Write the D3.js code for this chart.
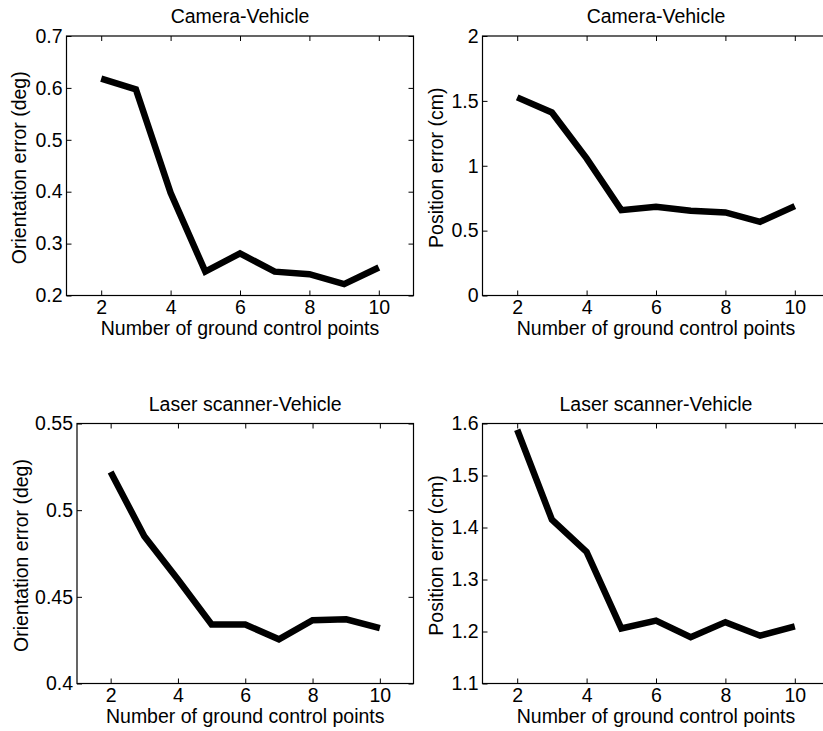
<!DOCTYPE html>
<html>
<head>
<meta charset="utf-8">
<script src="https://cdn.jsdelivr.net/npm/d3@7"></script>
<style>
  body { margin: 0; background: #fff; }
  svg { display: block; font-family: "Liberation Sans", Arial, sans-serif; }
</style>
</head>
<body>
<svg id="chart" width="823" height="731"></svg>
<script>
// number of ground control points
const gcpCounts = [2, 3, 4, 5, 6, 7, 8, 9, 10];
const xTicks = [2, 4, 6, 8, 10];

// values
const cameraOrientation = [0.618, 0.597, 0.398, 0.246, 0.281, 0.246, 0.241, 0.222, 0.254];
const cameraPosition = [1.527, 1.411, 1.057, 0.658, 0.684, 0.653, 0.640, 0.568, 0.689];
const laserOrientation = [0.522, 0.485, 0.460, 0.434, 0.434, 0.4255, 0.4365, 0.437, 0.432];
const laserPosition = [1.588, 1.415, 1.353, 1.206, 1.221, 1.189, 1.218, 1.192, 1.210];

const cameraOrientTicks = [0.2, 0.3, 0.4, 0.5, 0.6, 0.7];
const cameraPosTicks = [0, 0.5, 1, 1.5, 2];
const laserOrientTicks = [0.4, 0.45, 0.5, 0.55];
const laserPosTicks = [1.1, 1.2, 1.3, 1.4, 1.5, 1.6];

const panels = [
  { title: "Camera-Vehicle", ylabel: "Orientation error (deg)", values: cameraOrientation,
    yTicks: cameraOrientTicks, box: { left: 66.5, right: 413.5, top: 36, bottom: 295.5 }, labelX: 26 },
  { title: "Camera-Vehicle", ylabel: "Position error (cm)", values: cameraPosition,
    yTicks: cameraPosTicks, box: { left: 482.5, right: 829.5, top: 36, bottom: 295.5 }, labelX: 443 },
  { title: "Laser scanner-Vehicle", ylabel: "Orientation error (deg)", values: laserOrientation,
    yTicks: laserOrientTicks, box: { left: 77, right: 413.5, top: 423.5, bottom: 683.5 }, labelX: 28 },
  { title: "Laser scanner-Vehicle", ylabel: "Position error (cm)", values: laserPosition,
    yTicks: laserPosTicks, box: { left: 482.5, right: 829.5, top: 423.5, bottom: 683.5 }, labelX: 443 }
];

const fontSize = 19.5;
const svg = d3.select("#chart");
svg.append("rect").attr("width", 823).attr("height", 731).attr("fill", "#fff");

const fmt = d3.format("~g");

panels.forEach((p) => {
  const b = p.box;
  const x = d3.scaleLinear().domain([1, 11]).range([b.left, b.right]);
  const y = d3.scaleLinear().domain(d3.extent(p.yTicks)).range([b.bottom, b.top]);

  const g = svg.append("g");

  // the data line
  const line = d3.line()
    .x((d, i) => x(gcpCounts[i]))
    .y((d) => y(d));
  g.append("path")
    .datum(p.values)
    .attr("d", line)
    .attr("fill", "none")
    .attr("stroke", "#000")
    .attr("stroke-width", 6.5)
    .attr("stroke-linejoin", "miter");

  // axes, MATLAB style: ticks point inward on all four sides
  const bottomAxis = g.append("g")
    .attr("transform", `translate(0,${b.bottom})`)
    .call(d3.axisBottom(x).tickValues(xTicks).tickFormat(fmt).tickSize(-5).tickPadding(5));
  const topAxis = g.append("g")
    .attr("transform", `translate(0,${b.top})`)
    .call(d3.axisTop(x).tickValues(xTicks).tickSize(-5).tickFormat(""));
  const leftAxis = g.append("g")
    .attr("transform", `translate(${b.left},0)`)
    .call(d3.axisLeft(y).tickValues(p.yTicks).tickFormat(fmt).tickSize(-5).tickPadding(4));
  const rightAxis = g.append("g")
    .attr("transform", `translate(${b.right},0)`)
    .call(d3.axisRight(y).tickValues(p.yTicks).tickSize(-5).tickFormat(""));

  [bottomAxis, topAxis, leftAxis, rightAxis].forEach((a) => {
    a.select(".domain").remove();
    a.selectAll(".tick line").attr("stroke", "#000").attr("stroke-width", 1);
    a.selectAll("text").attr("font-size", fontSize)
      .attr("font-family", "Liberation Sans, Arial, sans-serif").attr("fill", "#000");
  });

  // frame drawn separately so the corners close
  g.append("rect")
    .attr("x", b.left).attr("y", b.top)
    .attr("width", b.right - b.left).attr("height", b.bottom - b.top)
    .attr("fill", "none").attr("stroke", "#000").attr("stroke-width", 1.2);

  // title
  g.append("text")
    .attr("x", (b.left + b.right) / 2)
    .attr("y", b.top - 13)
    .attr("text-anchor", "middle")
    .attr("font-size", fontSize)
    .text(p.title);

  // x label
  g.append("text")
    .attr("x", (x(2) + x(10)) / 2)
    .attr("y", b.bottom + 39)
    .attr("text-anchor", "middle")
    .attr("font-size", fontSize)
    .text("Number of ground control points");

  // y label
  g.append("text")
    .attr("transform", `translate(${p.labelX},${(b.top + b.bottom) / 2 + 2}) rotate(-90)`)
    .attr("text-anchor", "middle")
    .attr("font-size", fontSize)
    .text(p.ylabel);
});
</script>
</body>
</html>
